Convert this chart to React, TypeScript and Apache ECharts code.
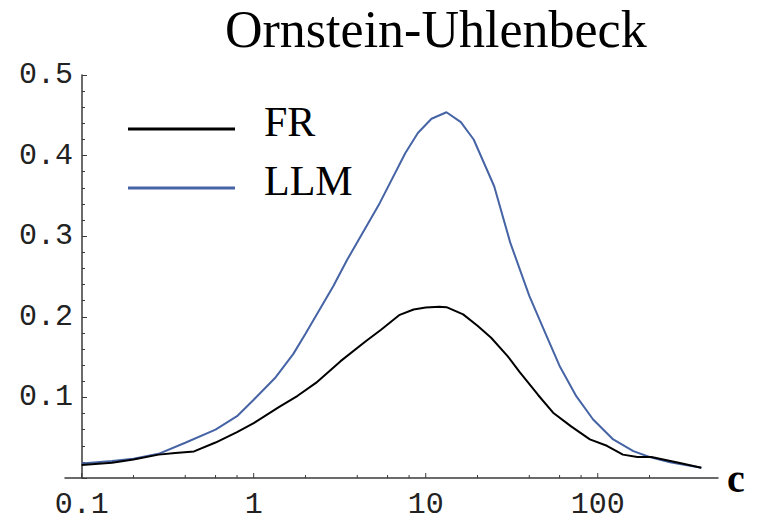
import React, { useEffect, useRef } from "react";
import * as echarts from "echarts";

const titleText = "Ornstein-Uhlenbeck";
const seriesNames = ["FR", "LLM"];

const frC = [0.1, 0.15, 0.2, 0.28, 0.35, 0.45, 0.6, 0.8, 1, 1.4, 1.8, 2.3, 3.2, 4.5, 5.5, 7, 8.5, 10, 12, 13.2, 16.5, 20, 24, 30, 35, 45, 55, 70, 90, 113, 140, 170, 205, 240, 300, 400];
const frValues = [0.016, 0.019, 0.023, 0.029, 0.031, 0.033, 0.044, 0.057, 0.068, 0.088, 0.102, 0.118, 0.145, 0.17, 0.184, 0.202, 0.209, 0.2115, 0.2125, 0.212, 0.203, 0.189, 0.174, 0.151, 0.132, 0.103, 0.081, 0.064, 0.048, 0.04, 0.029, 0.026, 0.026, 0.023, 0.0185, 0.0126];

const llmC = [0.1, 0.15, 0.2, 0.28, 0.4, 0.6, 0.8, 1, 1.33, 1.7, 2, 2.9, 3.5, 5.4, 7.6, 9, 10.8, 13.2, 16, 19, 25, 31, 40, 50, 60, 75, 94, 123, 161, 200, 263, 400];
const llmValues = [0.018, 0.021, 0.024, 0.03, 0.0437, 0.06, 0.0767, 0.097, 0.124, 0.154, 0.179, 0.238, 0.271, 0.341, 0.403, 0.428, 0.4457, 0.4538, 0.4415, 0.42, 0.362, 0.292, 0.226, 0.178, 0.139, 0.1015, 0.0726, 0.0478, 0.0333, 0.026, 0.0196, 0.0126];

const xMajorTicks = [0.1, 1, 10, 100];
const xMinorTicks = [0.2, 0.4, 0.6, 0.8, 2, 4, 6, 8, 20, 40, 60, 80, 200];
const xAxisName = "c";

const axisColor = "#3a3a3a";
const frColor = "#000000";
const llmColor = "#4664a5";
const monoFont = "'Liberation Mono', 'DejaVu Sans Mono', monospace";
const serifFont = "'Liberation Serif', 'DejaVu Serif', serif";
// legend swatch: a line sitting in the lower part of the icon box
const legendIcon = "path://M0,0L107,0L107,0.01L0,0.01ZM0,14L107,14L107,17L0,17Z";

function tickSeries(values: number[], len: number) {
  return {
    type: "custom",
    coordinateSystem: "cartesian2d",
    silent: true,
    clip: false,
    z: 4,
    data: values.map((v) => [v, 0]),
    renderItem: (_params: any, api: any) => {
      const p = api.coord([api.value(0), api.value(1)]);
      return {
        type: "line",
        shape: { x1: p[0], y1: p[1], x2: p[0], y2: p[1] - len },
        style: { stroke: axisColor, lineWidth: 1 },
      };
    },
  };
}

export default function App() {
  const ref = useRef<HTMLDivElement>(null);
  useEffect(() => {
    document.body.style.margin = "0";
    if (!ref.current) return;
    const chart = echarts.init(ref.current, undefined, { renderer: "svg" });
    chart.setOption({
      animation: false,
      backgroundColor: "#ffffff",
      title: {
        text: titleText,
        left: 225,
        top: 3,
        padding: 0,
        textStyle: { fontFamily: serifFont, fontSize: 52, fontWeight: "normal", color: "#000" },
      },
      legend: {
        data: seriesNames,
        orient: "vertical",
        left: 128,
        top: 101,
        padding: 0,
        icon: legendIcon,
        itemWidth: 107,
        itemHeight: 17,
        itemGap: 17,
        itemStyle: { borderWidth: 0 },
        textStyle: {
          fontFamily: serifFont,
          fontSize: 42,
          lineHeight: 42,
          color: "#000",
          padding: [0, 0, 0, 24],
        },
      },
      grid: { left: 65, right: 43, top: 75, bottom: 43, containLabel: false },
      xAxis: {
        type: "log",
        logBase: 10,
        min: 0.08,
        max: 500,
        name: xAxisName,
        nameLocation: "end",
        nameGap: 9,
        nameTextStyle: {
          fontFamily: serifFont,
          fontSize: 40,
          fontWeight: "bold",
          color: "#000",
          padding: [0, 0, 10, 0],
        },
        axisLine: { show: true, lineStyle: { color: axisColor, width: 1.5 } },
        axisTick: { show: false },
        minorTick: { show: false },
        splitLine: { show: false },
        axisLabel: {
          showMinLabel: false,
          showMaxLabel: false,
          margin: 12,
          fontFamily: monoFont,
          fontSize: 30,
          color: "#222",
        },
      },
      yAxis: {
        type: "value",
        min: 0,
        max: 0.5,
        interval: 0.1,
        offset: -17,
        axisLine: { show: true, lineStyle: { color: axisColor, width: 1.5 } },
        axisTick: { show: true, inside: true, length: 5, lineStyle: { color: axisColor } },
        minorTick: { show: true, splitNumber: 5, length: 3, lineStyle: { color: axisColor } },
        splitLine: { show: false },
        axisLabel: {
          showMinLabel: false,
          margin: 9,
          fontFamily: monoFont,
          fontSize: 30,
          color: "#222",
          formatter: (v: number) => (v === 0 ? "" : v.toFixed(1)),
        },
      },
      series: [
        {
          name: seriesNames[0],
          type: "line",
          data: frC.map((c, i) => [c, frValues[i]]),
          showSymbol: false,
          symbol: "none",
          itemStyle: { color: frColor },
          lineStyle: { color: frColor, width: 2 },
          z: 3,
        },
        {
          name: seriesNames[1],
          type: "line",
          data: llmC.map((c, i) => [c, llmValues[i]]),
          showSymbol: false,
          symbol: "none",
          itemStyle: { color: llmColor },
          lineStyle: { color: llmColor, width: 2 },
          z: 2,
        },
        tickSeries(xMajorTicks, 5),
        tickSeries(xMinorTicks, 3),
      ],
    });
    return () => chart.dispose();
  }, []);
  return (
    <div
      ref={ref}
      style={{ position: "absolute", left: 0, top: 0, width: 761, height: 521 }}
    />
  );
}
